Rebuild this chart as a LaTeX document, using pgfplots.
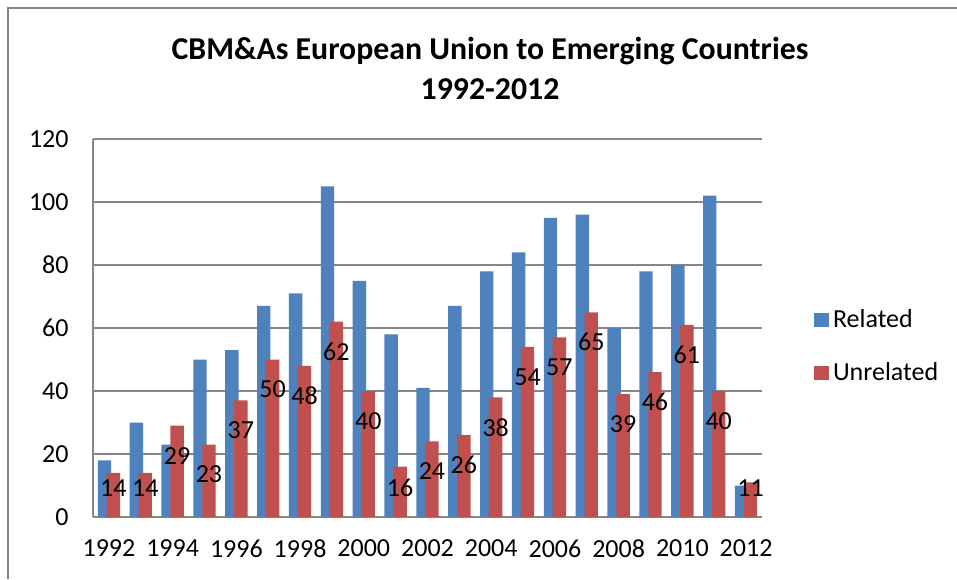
\documentclass[border=0pt]{standalone}
\usepackage{fontspec}
\setmainfont{Carlito}
\usepackage{pgfplots}
\pgfplotsset{compat=1.18}

\definecolor{relblue}{HTML}{4F81BD}
\definecolor{unrred}{HTML}{C0504D}
\definecolor{gridgray}{HTML}{868686}

\begin{document}
\begin{tikzpicture}
\useasboundingbox (-46.5pt,-31pt) rectangle (432pt,258.5pt);
\begin{axis}[
  at={(0,0)}, anchor=south west,
  width=334.5pt, height=189pt, scale only axis,
  /tikz/font=\fontsize{13}{15}\selectfont,
  xmin=-0.5, xmax=20.5, ymin=0, ymax=120,
  xtick={0,2,...,20},
  xticklabels={1992,1994,1996,1998,2000,2002,2004,2006,2008,2010,2012},
  ytick={0,20,...,120},
  axis x line*=bottom, axis y line*=left,
  axis line style={gridgray, line width=0.75pt, -},
  ymajorgrids, grid style={gridgray, line width=0.75pt},
  major tick length=0pt,
  /pgf/number format/assume math mode=true,
  yticklabel style={xshift=-8.7pt},
  xticklabel style={yshift=-8pt},
  ybar, bar width=0.42,
  legend style={draw=none, fill=none, at={(1,0.451)}, anchor=west,
                xshift=26pt, inner sep=0pt, row sep=12pt,
                /tikz/every even column/.append style={column sep=4.5pt}},
  legend cell align=left,
]
% Related
\addplot[fill=relblue, draw=none, bar shift=-0.14,
  legend image code/.code={\fill[relblue] (0pt,-3.65pt) rectangle (7.3pt,3.65pt);}]
  coordinates {(0,18)(1,30)(2,23)(3,50)(4,53)(5,67)(6,71)(7,105)(8,75)(9,58)
               (10,41)(11,67)(12,78)(13,84)(14,95)(15,96)(16,60)(17,78)(18,80)(19,102)(20,10)};
\addlegendentry{Related}
% Unrelated, labels inside the bar top (kept above the axis for short bars)
\addplot[fill=unrred, draw=none, bar shift=0.14,
  legend image code/.code={\fill[unrred] (0pt,-3.65pt) rectangle (7.3pt,3.65pt);},
  nodes near coords,
  visualization depends on={rawy \as \rawy},
  every node near coord/.append style={anchor=center, text=black,
     yshift={max(-9.5,9.2-\rawy)*1.575pt}}]
  coordinates {(0,14)(1,14)(2,29)(3,23)(4,37)(5,50)(6,48)(7,62)(8,40)(9,16)
               (10,24)(11,26)(12,38)(13,54)(14,57)(15,65)(16,39)(17,46)(18,61)(19,40)(20,11)};
\addlegendentry{Unrelated}
\end{axis}
\node[font=\fontsize{15.9}{20}\selectfont\bfseries, align=center]
  at (198.5pt,224.5pt) {CBM\&As European Union to Emerging Countries\\1992-2012};
\draw[gridgray, line width=1pt] (-42.25pt,-31pt) -- (-42.25pt,254.5pt) -- (432pt,254.5pt);
\end{tikzpicture}
\end{document}
